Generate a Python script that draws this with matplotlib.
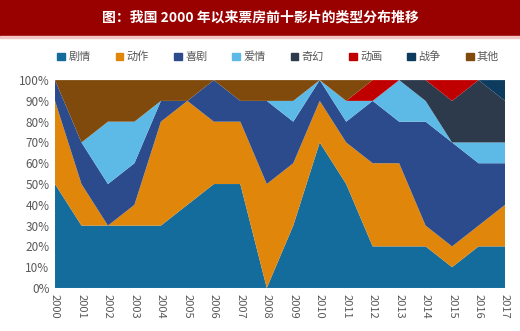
import numpy as np
from matplotlib import pyplot as plt
from matplotlib.patches import Patch, Rectangle

plt.rcParams['font.family'] = ['Noto Sans CJK SC', 'DejaVu Sans']

years = [str(y) for y in range(2000, 2018)]
genres = ["剧情", "动作", "喜剧", "爱情", "奇幻", "动画", "战争", "其他"]
juqing = [50, 30, 30, 30, 30, 40, 50, 50, 0, 30, 70, 50, 20, 20, 20, 10, 20, 20]
dongzuo = [40, 20, 0, 10, 50, 50, 30, 30, 50, 30, 20, 20, 40, 40, 10, 10, 10, 20]
xiju = [10, 20, 20, 20, 10, 0, 20, 10, 40, 20, 10, 10, 30, 20, 50, 50, 30, 20]
aiqing = [0, 0, 30, 20, 0, 0, 0, 0, 0, 10, 0, 10, 0, 20, 10, 0, 10, 10]
qihuan = [0, 0, 0, 0, 0, 0, 0, 0, 0, 0, 0, 0, 0, 0, 10, 20, 30, 20]
donghua = [0, 0, 0, 0, 0, 0, 0, 0, 0, 0, 0, 0, 10, 0, 0, 10, 0, 0]
zhanzheng = [0, 0, 0, 0, 0, 0, 0, 0, 0, 0, 0, 0, 0, 0, 0, 0, 0, 10]
qita = [0, 30, 20, 20, 10, 10, 0, 10, 10, 10, 0, 10, 0, 0, 0, 0, 0, 0]

colors = ["#146c9c", "#e0860b", "#2b4b8d", "#5db9e6", "#2c3a4b", "#c00000", "#0c3b5d", "#7f4a0c"]

fig = plt.figure(figsize=(5.2, 3.31), dpi=100)
# title bar
fig.patches.append(Rectangle((0, 0.891), 1, 0.109, transform=fig.transFigure,
                             color="#990000", zorder=0))
fig.patches.append(Rectangle((0, 0.885), 1, 0.006, transform=fig.transFigure,
                             color="#f2c4c4", zorder=0))
fig.text(0.5, 0.948, "图：我国 2000 年以来票房前十影片的类型分布推移", color="white",
         fontsize=10, fontweight="bold", ha="center", va="center")

ax = fig.add_axes([0.1058, 0.130, 0.8654, 0.628])
x = np.arange(len(years))
data = [juqing, dongzuo, xiju, aiqing, qihuan, donghua, zhanzheng, qita]
ax.stackplot(x, *data, colors=colors, linewidth=0)
ax.set_xlim(0, len(years) - 1)
ax.set_ylim(0, 100)
ax.set_yticks(range(0, 101, 10))
ax.set_yticklabels([f"{v}%" for v in range(0, 101, 10)], fontsize=8.5, color="#595959")
ax.set_xticks(x)
ax.set_xticklabels(years, rotation=270, fontsize=8, color="#595959")
ax.tick_params(length=0, pad=4)
for s in ax.spines.values():
    s.set_visible(False)

handles = [Patch(color=c) for c in colors]
fig.legend(handles, genres, loc="center", bbox_to_anchor=(0.535, 0.828), ncol=8,
           frameon=False, fontsize=8, handlelength=0.7, handleheight=0.7,
           handletextpad=0.3, columnspacing=2.25, labelcolor="#595959")

plt.savefig("out.png", dpi=100)
